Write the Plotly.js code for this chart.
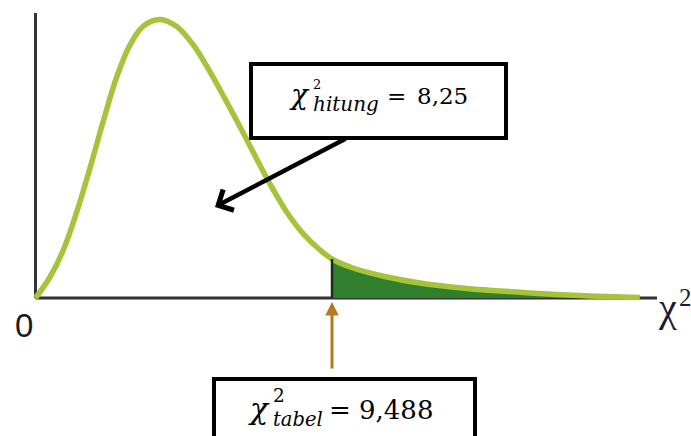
<!DOCTYPE html>
<html>
<head>
<meta charset="utf-8">
<script src="https://cdn.plot.ly/plotly-3.0.1.min.js"></script>
<style>
  html, body { margin: 0; padding: 0; background: #ffffff; }
  #chart { width: 691px; height: 436px; }
</style>
</head>
<body>
<div id="chart"></div>
<script>
// ---- data ----
const chiX = [0, 0.464, 0.890, 1.318, 1.744, 2.170, 2.598, 3.024, 3.450, 3.984, 4.518, 5.050, 5.584, 6.118, 6.650, 7.078, 7.504, 8.038, 8.570, 9.104, 9.488, 10.16, 11.25, 12.30, 13.81, 14.86, 17.01, 19.34];
const density = [0, 0.0140, 0.0320, 0.0573, 0.0867, 0.1180, 0.1473, 0.1687, 0.1813, 0.1857, 0.1810, 0.1687, 0.1507, 0.1307, 0.1100, 0.0927, 0.0760, 0.0573, 0.0427, 0.0320, 0.0260, 0.0200, 0.0140, 0.0100, 0.0063, 0.0047, 0.0020, 0.0003];
const tabelValue = 9.488;
const hitungValue = 8.25;
const hitungLabel = "8,25";
const tabelLabel = "9,488";
const hitungSub = "hitung";
const tabelSub = "tabel";
const originLabel = "0";
const axisLabel = "χ";

// ---- derived arrays ----
const tailX = [], tailY = [];
chiX.forEach((x, i) => { if (x >= tabelValue) { tailX.push(x); tailY.push(density[i]); } });
const yAtTabel = density[chiX.indexOf(tabelValue)];

// ---- layout helpers (pixel -> axis/paper) ----
const W = 691, H = 436;
const X0PX = 35.5, XSCALE = 31.25;   // px per unit
const Y0PX = 298, YSCALE = 1500;     // px per unit
const xRange = [-X0PX / XSCALE, (W - X0PX) / XSCALE];
const yRange = [-(H - Y0PX) / YSCALE, Y0PX / YSCALE];
const px = v => v / W;
const py = v => 1 - v / H;

const serif = 'DejaVu Serif';
function txt(text, xpos, baseline, size, opts) {
  opts = opts || {};
  const desc = opts.desc !== undefined ? opts.desc : 0.236;
  const dsize = opts.dsize || size;
  return {
    text: text, xref: 'paper', yref: 'paper',
    x: px(xpos), y: py(baseline + desc * dsize), xanchor: opts.anchor || 'left', yanchor: 'bottom',
    align: 'left', showarrow: false, borderpad: 0,
    font: { family: opts.family || serif, size: size, color: opts.color || '#000000' }
  };
}
// stacked superscript "2" over an italic subscript
function stack(sub, left, subBaseline, gap, subSize) {
  const base = gap / 1.3;
  return txt('2<br><span style="font-size:' + subSize + 'px"><i>' + sub + '</i></span>',
             left, subBaseline, base, { dsize: subSize });
}

const annotations = [
  // black arrow from box 1
  { x: 5.744, y: 0.0607, xref: 'x', yref: 'y', ax: 132, ay: -69, text: '',
    showarrow: true, arrowhead: 4, arrowwidth: 4.5, arrowsize: 1, arrowcolor: '#000000' },
  // brown arrow to tabel value
  { x: tabelValue, y: -0.0027, xref: 'x', yref: 'y', ax: 0, ay: 68, text: '',
    showarrow: true, arrowhead: 2, arrowwidth: 3, arrowsize: 0.9, arrowcolor: '#b57a1f' },
  // box 1 text
  txt('<i>χ</i>', 311, 105, 28, { anchor: 'right' }),
  txt('2', 311.5, 89.5, 13),
  txt('<i>' + hitungSub + '</i>', 311.5, 112, 20),
  txt('=', 396, 105, 23, { anchor: 'center' }),
  txt(hitungLabel, 416, 105, 23),
  // box 2 text
  txt('<i>χ</i>', 271, 420, 30, { anchor: 'right' }),
  stack(tabelSub, 271.5, 427, 24, 19.5),
  txt('=', 340, 420, 26, { anchor: 'center' }),
  txt(tabelLabel, 358, 420, 26),
  // axis labels
  txt(originLabel, 24, 338, 33, { family: 'Liberation Sans', color: '#1a1a1a', anchor: 'center', desc: 0.212 }),
  txt(axisLabel, 657, 322, 40, { family: 'Liberation Serif', color: '#1a1a3a', desc: 0.216 }),
  txt('2', 678, 307, 25, { family: 'Liberation Serif', color: '#1a1a3a', desc: 0.216 })
];

const shapes = [
  // axes
  { type: 'line', xref: 'x', yref: 'y', x0: 0, x1: (657 - X0PX) / XSCALE, y0: 0, y1: 0,
    line: { color: '#333333', width: 3 }, layer: 'below' },
  { type: 'line', xref: 'x', yref: 'y', x0: 0, x1: 0, y0: 0, y1: (Y0PX - 13) / YSCALE,
    line: { color: '#333333', width: 3 }, layer: 'below' },
  // edge of the shaded tail
  { type: 'line', xref: 'x', yref: 'y', x0: tabelValue, x1: tabelValue, y0: 0, y1: yAtTabel,
    line: { color: '#1d2b1d', width: 2.5 } },
  // box 1
  { type: 'rect', xref: 'paper', yref: 'paper', x0: px(251), x1: px(506), y0: py(138), y1: py(64),
    line: { color: '#000000', width: 4 }, fillcolor: '#ffffff' },
  // box 2
  { type: 'rect', xref: 'paper', yref: 'paper', x0: px(214), x1: px(475), y0: py(450), y1: py(379),
    line: { color: '#000000', width: 4 }, fillcolor: '#ffffff' }
];

const traces = [
  { x: tailX, y: tailY, type: 'scatter', mode: 'lines',
    line: { width: 0, shape: 'spline', color: '#2f7f2c' },
    fill: 'tozeroy', fillcolor: '#2f7f2c', hoverinfo: 'skip' },
  { x: chiX, y: density, type: 'scatter', mode: 'lines',
    line: { color: '#a6c33c', width: 5.5, shape: 'spline' }, hoverinfo: 'skip' }
];

const layout = {
  width: W, height: H,
  margin: { l: 0, r: 0, t: 0, b: 0, pad: 0 },
  paper_bgcolor: '#ffffff', plot_bgcolor: '#ffffff',
  showlegend: false,
  xaxis: { range: xRange, visible: false, fixedrange: true },
  yaxis: { range: yRange, visible: false, fixedrange: true },
  shapes: shapes,
  annotations: annotations
};

Plotly.newPlot('chart', traces, layout, { displayModeBar: false, staticPlot: true });
</script>
</body>
</html>
